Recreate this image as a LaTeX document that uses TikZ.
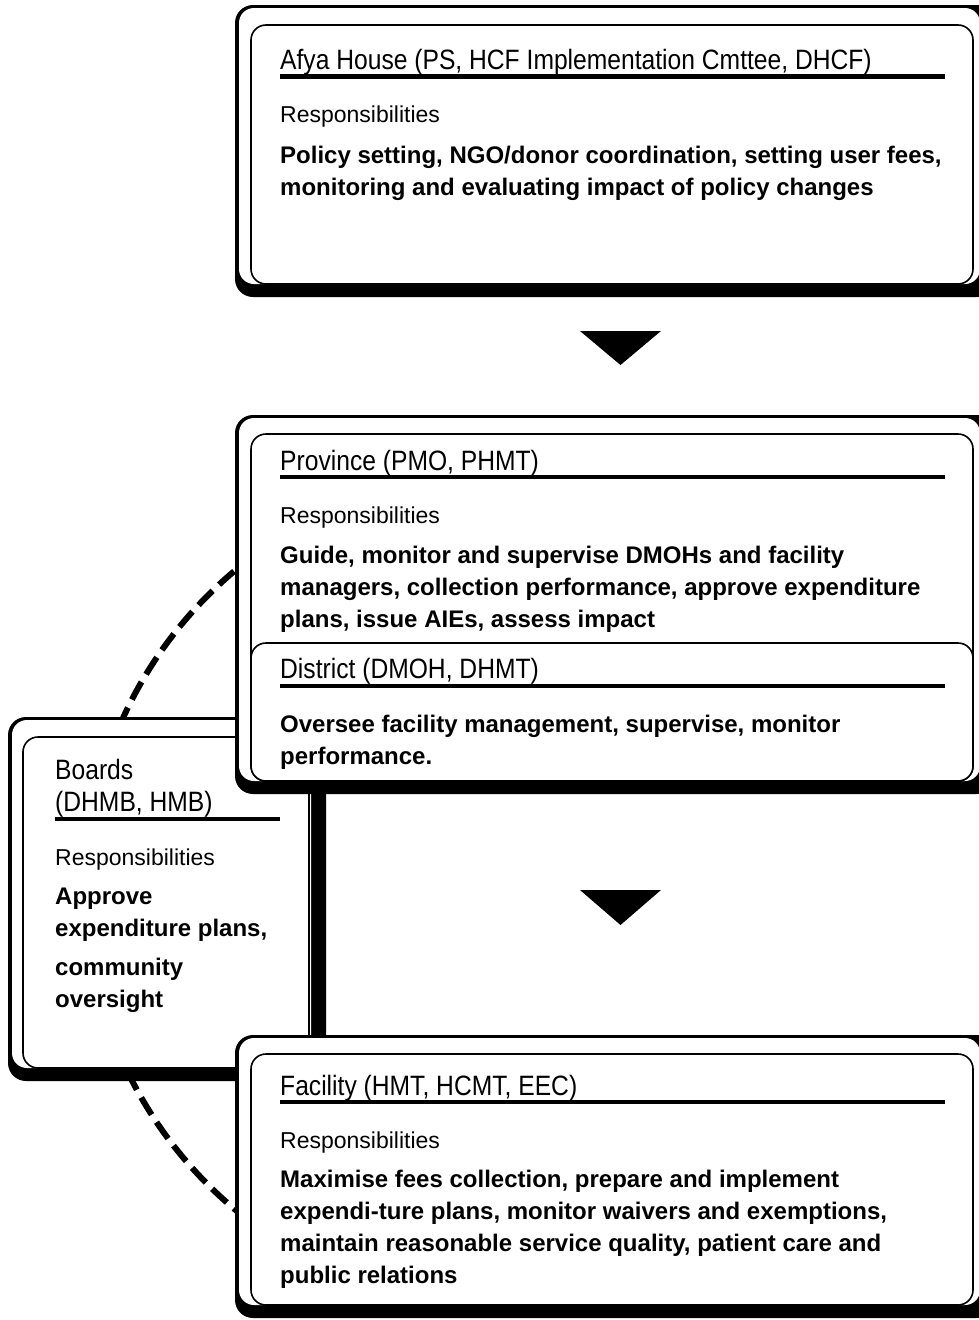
\documentclass[tikz,border=0pt]{standalone}
\usepackage{fontspec}
\setmainfont{Liberation Sans}
\newfontfamily\headfont[FakeStretch=0.88]{Liberation Sans}
\usetikzlibrary{positioning,calc}

\tikzset{
  ring/.style={line width=6pt, dash pattern=on 20pt off 9pt},
  innerbox/.style={draw, line width=1.6pt, fill=white, rounded corners=15pt},
  head/.style={anchor=base west, inner sep=0pt, align=left, font=\headfont\fontsize{28}{32}\selectfont},
  resp/.style={anchor=base west, inner sep=0pt, font=\fontsize{23}{32}\selectfont},
  duty/.style={anchor=base west, inner sep=0pt, align=left, font=\bfseries\fontsize{24}{32}\selectfont},
  rule/.style={line width=4.5pt}
}

% shadowed panel: left, top, right, bottom
\newcommand{\panel}[4]{%
  \fill[rounded corners=18pt] (#1,#2) rectangle (#3,#4);
  \fill[white, rounded corners=15pt] (#1+4,#2+3) rectangle (#3-15,#4-13);
}

\begin{document}
\begin{tikzpicture}[x=1pt,y=-1pt]
    \useasboundingbox (0,0) rectangle (979,1320);

    % dashed ring round the boards
    \begin{scope}
        \clip (0,0) rectangle (238,1320);
        \draw[ring] (503,890) circle[radius=417];
    \end{scope}

    % boards (base anchor sits on the last line)
    \panel{8}{717}{326}{1081}
    \draw[innerbox] (23,737) rectangle (309,1068);
    \node[head] (boardshead) at (55,811) {Boards\\(DHMB, HMB)};
    \draw[rule] (55,819) -- (280,819);
    \node[resp] (boardsresp) at (55,865) {Responsibilities};
    \node[duty] (boardsduty) at (55,936) {Approve\\expenditure plans,};
    \node[duty] (boardsmore) at (55,1007) {community\\oversight};

    % afya house
    \panel{235}{5}{995}{297}
    \draw[innerbox] (251,25) rectangle (973,284);
    \node[head] (afyahead) at (280,69) {Afya House (PS, HCF Implementation Cmttee, DHCF)};
    \draw[rule] (280,76.5) -- (945,76.5);
    \node[resp] (afyaresp) at (280,122) {Responsibilities};
    \node[duty] (afyaduty) at (280,195) {Policy setting, NGO/donor coordination, setting user fees,\\monitoring and evaluating impact of policy changes};

    \fill (580,331) -- (661,331) -- (620.5,365) -- cycle;

    % province and district
    \panel{235}{415}{995}{794}
    \draw[innerbox] (251,434) rectangle (973,781);
    \node[head] (provhead) at (280,470) {Province (PMO, PHMT)};
    \draw[rule] (280,477) -- (945,477);
    \node[resp] (provresp) at (280,523) {Responsibilities};
    \node[duty] (provduty) at (280,627) {Guide, monitor and supervise DMOHs and facility\\managers, collection performance, approve expenditure\\plans, issue AIEs, assess impact};
    \draw[innerbox] (251,643) rectangle (973,781);
    \node[head] (disthead) at (280,678) {District (DMOH, DHMT)};
    \draw[rule] (280,686) -- (945,686);
    \node[duty] (distduty) at (280,764) {Oversee facility management, supervise, monitor\\performance.};

    \fill (580,890) -- (661,890) -- (620.5,925) -- cycle;

    % facility
    \panel{235}{1035}{995}{1318}
    \draw[innerbox] (251,1054) rectangle (973,1305);
    \node[head] (facihead) at (280,1095) {Facility (HMT, HCMT, EEC)};
    \draw[rule] (280,1102) -- (945,1102);
    \node[resp] (faciresp) at (280,1148) {Responsibilities};
    \node[duty] (faciduty) at (280,1283) {Maximise fees collection, prepare and implement\\expendi-ture plans, monitor waivers and exemptions,\\maintain reasonable service quality, patient care and\\public relations};
\end{tikzpicture}
\end{document}
